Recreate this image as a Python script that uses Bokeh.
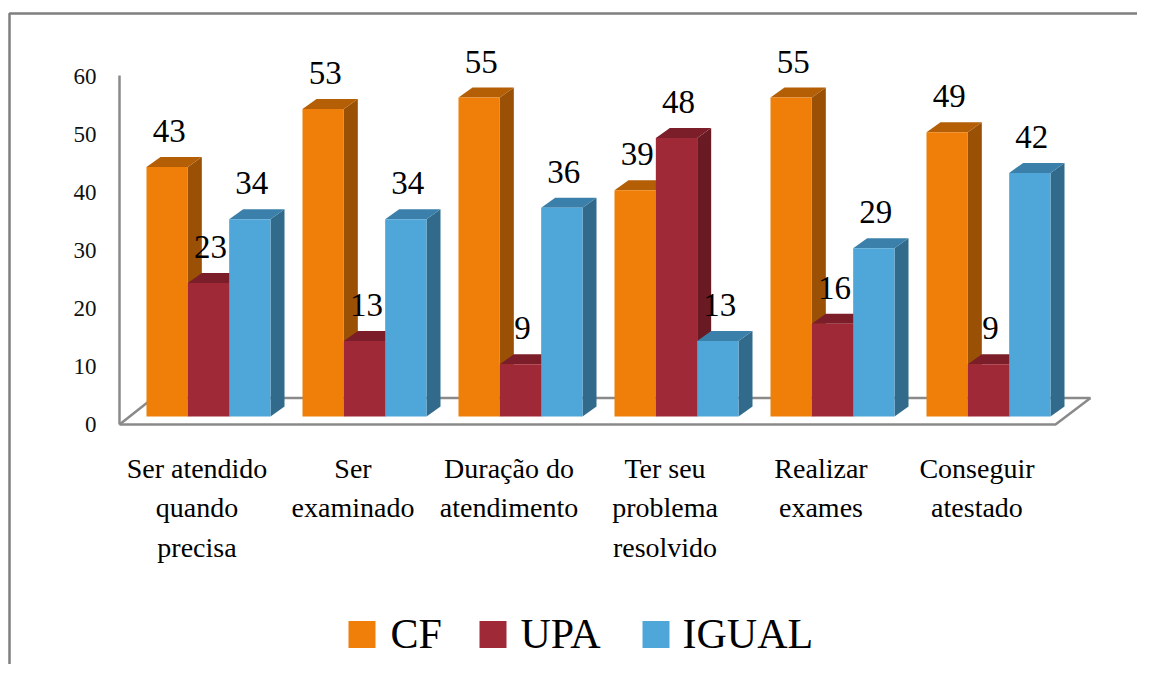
from bokeh.plotting import figure
from bokeh.models import Range1d
from bokeh.core.properties import value
from bokeh.embed import file_html
from bokeh.resources import INLINE

# ---------------- data ----------------
categories = ["Ser atendido\nquando\nprecisa", "Ser\nexaminado", "Duração do\natendimento",
              "Ter seu\nproblema\nresolvido", "Realizar\nexames", "Conseguir\natestado"]
series = ["CF", "UPA", "IGUAL"]
cf = [43, 53, 55, 39, 55, 49]
upa = [23, 13, 9, 48, 16, 9]
igual = [34, 34, 36, 13, 29, 42]
y_ticks = [0, 10, 20, 30, 40, 50, 60]

front_colors = ["#F07F09", "#9F2936", "#4FA6D9"]
top_colors = ["#B45F06", "#7B1E29", "#3B80AA"]
side_colors = ["#9A5105", "#6A1A23", "#316A8B"]

FONT = "Liberation Serif"
W, H = 1137, 664
PXU = 156.0      # pixels per category unit
PYU = 5.8        # pixels per value unit
X0PX = 208.0     # x of category 0 centre (picture pixels)
Y0PX = 416.0     # y of value 0 (bar front base)


def X(px):
    return (px - X0PX) / PXU


def Y(py):
    return (Y0PX - py) / PYU


p = figure(width=W, height=H, output_backend="svg", toolbar_location=None,
           x_range=Range1d(X(0), X(W)), y_range=Range1d(Y(H), Y(0)),
           x_axis_type=None, y_axis_type=None, min_border=0,
           outline_line_color=None, background_fill_color="white")
p.grid.visible = False

# chart border (top and left visible)
p.line([X(9), X(9), X(W)], [Y(H), Y(13), Y(13)], line_color="#7f7f7f", line_width=2.5)

# floor / axis lines (behind bars)
GRAY = "#8a8a8a"
p.line([X(150), X(1090)], [Y(397.5), Y(397.5)], line_color=GRAY, line_width=2.5)
p.line([X(119), X(152)], [Y(424), Y(398)], line_color=GRAY, line_width=2.5)
p.line([X(119), X(119)], [Y(75), Y(424)], line_color=GRAY, line_width=2.5)
p.line([X(119), X(1055), X(1090)], [Y(424), Y(424), Y(397.5)], line_color=GRAY, line_width=2.5)

# y tick labels
p.text(x=[X(96)] * len(y_ticks), y=[t - 8 / PYU for t in y_ticks], text=[str(t) for t in y_ticks],
       text_font=value(FONT), text_font_size="23px", text_align="right",
       text_baseline="middle", text_color="#111111")

# 3D bars
bw = 124.0 / 3 / PXU
dx = 14.0 / PXU
dy = 10.0 / PYU
vals = [cf, upa, igual]
side_xs, side_ys, side_c = [], [], []
top_xs, top_ys, top_c = [], [], []
fl, fr, ft, fc = [], [], [], []
lx, ly, lt = [], [], []
for i in range(len(categories)):
    for j in range(3):
        v = vals[j][i]
        x0 = i + (j - 1.5) * bw
        x1 = x0 + bw
        side_xs.append([x1, x1 + dx, x1 + dx, x1])
        side_ys.append([0, dy, v + dy, v])
        side_c.append(side_colors[j])
        top_xs.append([x0, x1, x1 + dx, x0 + dx])
        top_ys.append([v, v, v + dy, v + dy])
        top_c.append(top_colors[j])
        fl.append(x0); fr.append(x1); ft.append(v); fc.append(front_colors[j])
        lx.append((x0 + x1) / 2 + 2 / PXU)
        ly.append(v + 36 / PYU)
        lt.append(str(v))

p.patches(xs=side_xs, ys=side_ys, fill_color=side_c, line_color=None)
p.patches(xs=top_xs, ys=top_ys, fill_color=top_c, line_color=None)
p.quad(left=fl, right=fr, bottom=[0] * len(fl), top=ft, fill_color=fc, line_color=None)

# data labels
p.text(x=lx, y=ly, text=lt, text_font=value(FONT), text_font_size="33px",
       text_align="center", text_baseline="middle", text_color="#000000")

# category labels
p.text(x=[i - 11.5 / PXU for i in range(len(categories))], y=[Y(452)] * len(categories),
       text=categories, text_font=value(FONT), text_font_size="28px",
       text_align="center", text_baseline="top", text_line_height=1.28, text_color="#000000")

# legend
leg_sq_x = [361.5, 492.5, 655.5]
leg_tx_x = [390, 520, 682]
p.rect(x=[X(v) for v in leg_sq_x], y=[Y(634)] * 3, width=27, height=27,
       width_units="screen", height_units="screen", fill_color=front_colors, line_color=None)
p.text(x=[X(v) for v in leg_tx_x], y=[Y(633)] * 3, text=series, text_font=value(FONT),
       text_font_size="42px", text_align="left", text_baseline="middle", text_color="#000000")

open("out.html", "w").write(file_html(p, INLINE))
